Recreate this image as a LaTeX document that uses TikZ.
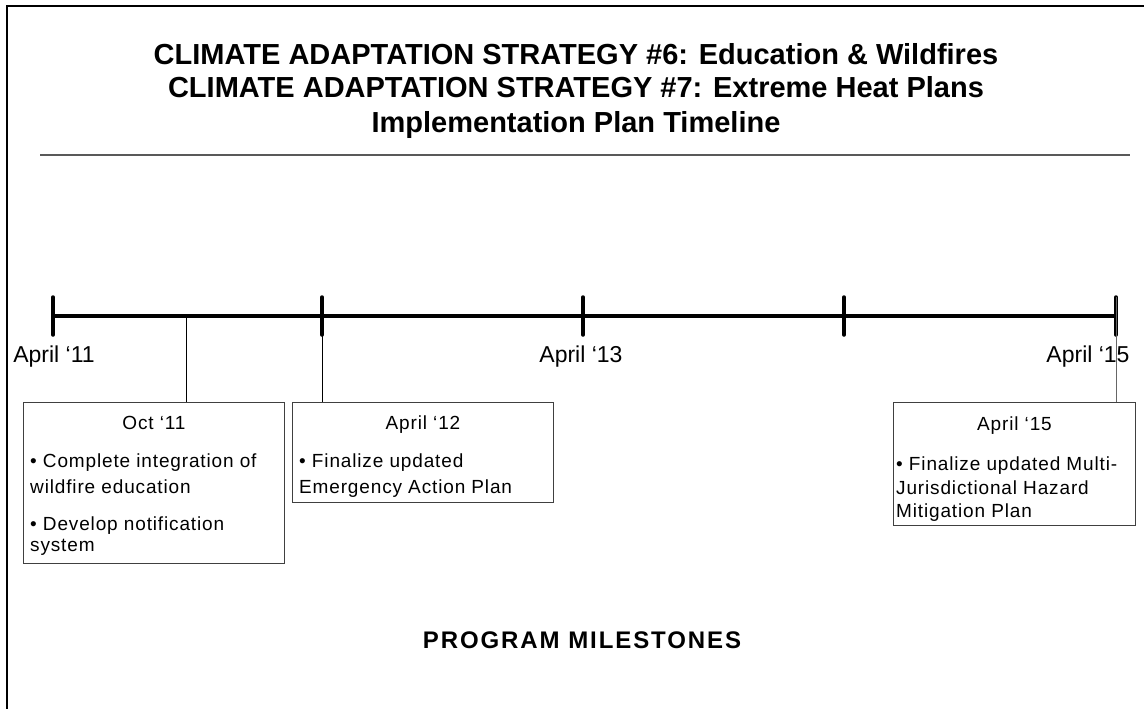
\documentclass[tikz,border=0pt]{standalone}
\usepackage{fontspec}
\setmainfont{Liberation Sans}
\begin{document}
\begin{tikzpicture}[x=1pt,y=-1pt,
  frameline/.style={line width=2pt,black},
  rule/.style={line width=1.3pt,black!65},
  axis/.style={line width=4pt,black},
  tick/.style={line width=3.5pt,black,line cap=round},
  conn/.style={line width=1pt,black},
  mbox/.style={draw=black!75,line width=1pt,rectangle,inner sep=0pt,anchor=north west},
  ttl/.style={font=\fontsize{29}{33}\selectfont\bfseries,inner sep=0pt,anchor=base},
  datelbl/.style={font=\fontsize{23}{26}\selectfont,inner sep=0pt,anchor=base},
  boxhead/.style={font=\fontsize{19}{24}\selectfont\addfontfeature{LetterSpace=4.5},inner sep=0pt,anchor=base},
  boxtxt/.style={font=\fontsize{19}{24}\selectfont\addfontfeature{LetterSpace=4.5},inner sep=0pt,anchor=base west},
]
\useasboundingbox (0,0) rectangle (1144,709);
% frame (top and left edges)
\draw[frameline] (7,709) -- (7,6) -- (1144,6);
% title
\node[ttl] (title1) at (576,65) {CLIMATE ADAPTATION STRATEGY \#6: Education \& Wildfires};
\node[ttl] (title2) at (576,98) {CLIMATE ADAPTATION STRATEGY \#7: Extreme Heat Plans};
\node[ttl] (title3) at (576,132) {Implementation Plan Timeline};
\draw[rule] (40,155) -- (1130,155);
% timeline
\coordinate (a0) at (53,316);
\coordinate (a1) at (322,316);
\coordinate (a2) at (583,316);
\coordinate (a3) at (844,316);
\coordinate (a4) at (1116,316);
\coordinate (oct) at (186,316);
\draw[axis] (a0) -- (a4);
\foreach \c in {a0,a1,a2,a3,a4}{
  \draw[tick] ([yshift=-19pt]\c) -- ([yshift=19pt]\c);
}
% date labels
\node[datelbl] (l11) at (54,362) {April ‘11};
\node[datelbl] (l13) at (581,362) {April ‘13};
\node[datelbl] (l15) at (1088,362) {April ‘15};
% boxes
\node[mbox,minimum width=261pt,minimum height=161pt] (b1) at (23,402) {};
\node[mbox,minimum width=261pt,minimum height=100pt] (b2) at (292,402) {};
\node[mbox,minimum width=242pt,minimum height=123pt] (b3) at (893,402) {};
% connectors
\draw[conn] (oct) -- (oct |- b1.north);
\draw[conn] ([yshift=19pt]a1) -- (a1 |- b2.north);
\draw[conn,black!60] ([yshift=19pt]a4) -- (a4 |- b3.north);
% box 1
\node[boxhead] (h1) at (b1.north |- 0,429) {Oct ‘11};
\node[boxtxt] (t1a) at (30,467) {• Complete integration of};
\node[boxtxt] (t1b) at (30,493) {wildfire education};
\node[boxtxt] (t1c) at (30,530) {• Develop notification};
\node[boxtxt] (t1d) at (30,551) {system};
% box 2
\node[boxhead] (h2) at (b2.north |- 0,429) {April ‘12};
\node[boxtxt] (t2a) at (299,467) {• Finalize updated};
\node[boxtxt] (t2b) at (299,493) {Emergency Action Plan};
% box 3
\node[boxhead] (h3) at (b3.north |- 0,430) {April ‘15};
\node[boxtxt] (t3a) at (896,470) {• Finalize updated Multi-};
\node[boxtxt] (t3b) at (896,494) {Jurisdictional Hazard};
\node[boxtxt] (t3c) at (896,517) {Mitigation Plan};
% footer
\node[font=\fontsize{24}{28}\selectfont\bfseries\addfontfeature{LetterSpace=8},inner sep=0pt,anchor=base] (pm) at (582,648) {PROGRAM MILESTONES};
\end{tikzpicture}
\end{document}
